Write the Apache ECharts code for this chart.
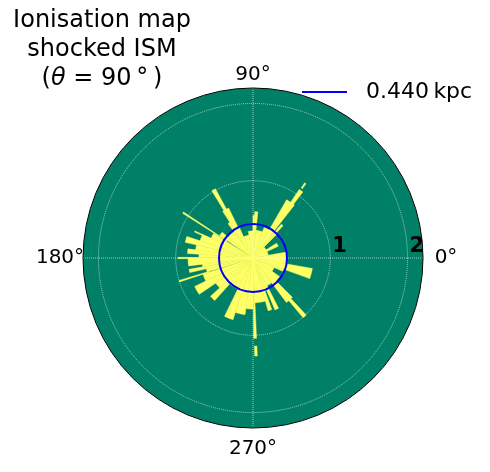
<!DOCTYPE html>
<html>
<head>
<meta charset="utf-8">
<script src="https://cdn.jsdelivr.net/npm/echarts@6/dist/echarts.min.js"></script>
<style>
  html, body { margin: 0; padding: 0; background: #fff; }
  #chart { width: 490px; height: 472px; }
</style>
</head>
<body>
<div id="chart"></div>
<script>
// ionised front, as angular wedges (degrees, radius in kpc)
const wedgeFrom  = [0, 10, 25, 45, 47, 50, 52, 53, 54.5, 60, 70, 84, 88, 90, 100, 114, 116, 118.5, 123, 126, 140, 146.5, 148, 155, 155, 162, 167, 172, 176, 179.5, 180, 187, 190, 193, 197, 198, 206, 214, 222, 228, 244, 252, 262, 270.5, 271, 272.5, 286, 290, 293, 297, 307, 310, 314, 325, 336, 340, 350];
const wedgeTo    = [10, 45, 32, 47, 50, 52, 60, 56, 55.5, 70, 84, 88, 90, 100, 114, 116, 123, 121.5, 126, 140, 146, 147.5, 155, 162, 156, 167, 172, 176, 179, 180.5, 187, 190, 193, 197, 198, 206, 214, 222, 228, 244, 252, 262, 270, 272.5, 272.5, 286, 290, 293, 297, 307, 315, 313, 325, 336, 340, 350, 360];
const wedgeOuter = [0.44, 0.2, 0.36, 0.45, 0.57, 0.45, 0.87, 1.07, 1.18, 0.42, 0.36, 0.6, 0.55, 0.35, 0.3, 0.45, 0.72, 1.02, 0.55, 0.42, 0.52, 1.08, 0.6, 0.72, 0.83, 0.9, 0.75, 0.85, 0.7, 0.97, 0.84, 0.66, 0.84, 0.62, 1.0, 0.68, 0.84, 0.58, 0.74, 0.45, 0.84, 0.74, 0.66, 1.04, 1.27, 0.58, 0.71, 0.45, 0.73, 0.4, 0.72, 1.01, 0.42, 0.3, 0.42, 0.78, 0.44];
const wedgeInner = [0, 0, 0, 0, 0, 0, 0, 0, 1.1, 0, 0, 0, 0, 0, 0, 0, 0, 0, 0, 0, 0, 0.4, 0, 0, 0.45, 0, 0, 0, 0, 0, 0, 0, 0, 0, 0.6, 0, 0, 0, 0, 0, 0, 0, 0, 0, 1.14, 0, 0, 0, 0, 0, 0, 0, 0, 0, 0, 0, 0];

const shockRadius = 0.44;
const rMax = 2.2;
const radiusTicks = [1, 2];
const angleTicks = [0, 90, 180, 270];

const font = 'DejaVu Sans';
const chart = echarts.init(document.getElementById('chart'));

const wedges = wedgeFrom.map((a, i) => [wedgeOuter[i], a, wedgeTo[i], wedgeInner[i]]);

function renderWedge(params, api) {
  const outer = api.value(0), from = api.value(1), to = api.value(2), inner = api.value(3);
  const steps = Math.max(2, Math.ceil(to - from));
  const pts = [];
  for (let k = 0; k <= steps; k++) pts.push(api.coord([outer, from + (to - from) * k / steps]));
  if (inner > 0) {
    for (let k = steps; k >= 0; k--) pts.push(api.coord([inner, from + (to - from) * k / steps]));
  } else {
    pts.push(api.coord([0, from]));
  }
  return { type: 'polygon', shape: { points: pts }, style: { fill: '#ffff66', stroke: '#ffff66', lineWidth: 0.5 } };
}

function renderDisk(fill, stroke, lw) {
  return (params, api) => {
    const c = api.coord([0, 0]);
    const e = api.coord([api.value(0), 0]);
    return {
      type: 'circle',
      shape: { cx: c[0], cy: c[1], r: Math.hypot(e[0] - c[0], e[1] - c[1]) },
      style: { fill: fill, stroke: stroke, lineWidth: lw }
    };
  };
}

// matplotlib centres the theta labels; emulate with fixed-width boxes
function angleLabel(v) {
  if (!angleTicks.includes(v)) return '';
  const style = v === 90 ? 't' : v === 270 ? 'b' : 'h';
  return '{' + style + '|' + v + '°}';
}

const grid = { show: true, lineStyle: { color: 'rgba(255,255,255,0.6)', type: 'dotted', width: 1 } };

chart.setOption({
  animation: false,
  title: {
    text: 'Ionisation map\nshocked ISM\n({i|θ} = 90\u2009°\u2009)',
    left: 102, top: 6, padding: 0, textAlign: 'center',
    textStyle: {
      fontFamily: font, fontSize: 24, fontWeight: 'normal', color: '#000', lineHeight: 29,
      rich: { i: { fontFamily: font, fontStyle: 'italic', fontSize: 24, lineHeight: 29, color: '#000' } }
    }
  },
  legend: {
    left: 302, top: 81, padding: 0,
    data: [{ name: '0.440\u2009kpc', icon: 'rect' }],
    itemWidth: 45, itemHeight: 2,
    textStyle: { fontFamily: font, fontSize: 22, color: '#000', padding: [0, 0, 0, 14] }
  },
  polar: { center: [253, 258], radius: 170 },
  angleAxis: {
    type: 'value', min: 0, max: 360, interval: 90,
    startAngle: 0, clockwise: false, z: 3,
    axisLine: { show: true, lineStyle: { color: '#000', width: 1 } },
    axisTick: { show: false },
    axisLabel: {
      margin: 2, fontFamily: font, fontSize: 20, color: '#000',
      formatter: angleLabel,
      rich: {
        h: { fontFamily: font, fontSize: 20, color: '#000', width: 42, align: 'center' },
        t: { fontFamily: font, fontSize: 20, color: '#000', lineHeight: 20, padding: [0, 0, 3, 0] },
        b: { fontFamily: font, fontSize: 20, color: '#000', lineHeight: 20, padding: [17, 0, 0, 0] }
      }
    },
    splitLine: grid
  },
  radiusAxis: {
    type: 'value', min: 0, max: rMax, interval: 1, z: 3,
    axisLine: { show: false },
    axisTick: { show: false },
    axisLabel: {
      margin: 1, fontFamily: font, fontSize: 21, fontWeight: 'bold', color: '#000', align: 'left',
      padding: [0, 0, 0, 2],
      formatter: v => radiusTicks.includes(v) ? String(v) : ''
    },
    splitLine: grid
  },
  series: [
    { type: 'custom', name: 'disk', coordinateSystem: 'polar', silent: true, z: 1,
      renderItem: renderDisk('#008066', null, 0), data: [[rMax, 0]] },
    { type: 'custom', name: 'ionised', coordinateSystem: 'polar', silent: true, z: 2,
      renderItem: renderWedge, data: wedges },
    { type: 'custom', name: '0.440\u2009kpc', coordinateSystem: 'polar', silent: true, z: 4,
      itemStyle: { color: '#0000ff' },
      renderItem: renderDisk(null, '#0000ff', 2), data: [[shockRadius, 0]] }
  ]
});
</script>
</body>
</html>
